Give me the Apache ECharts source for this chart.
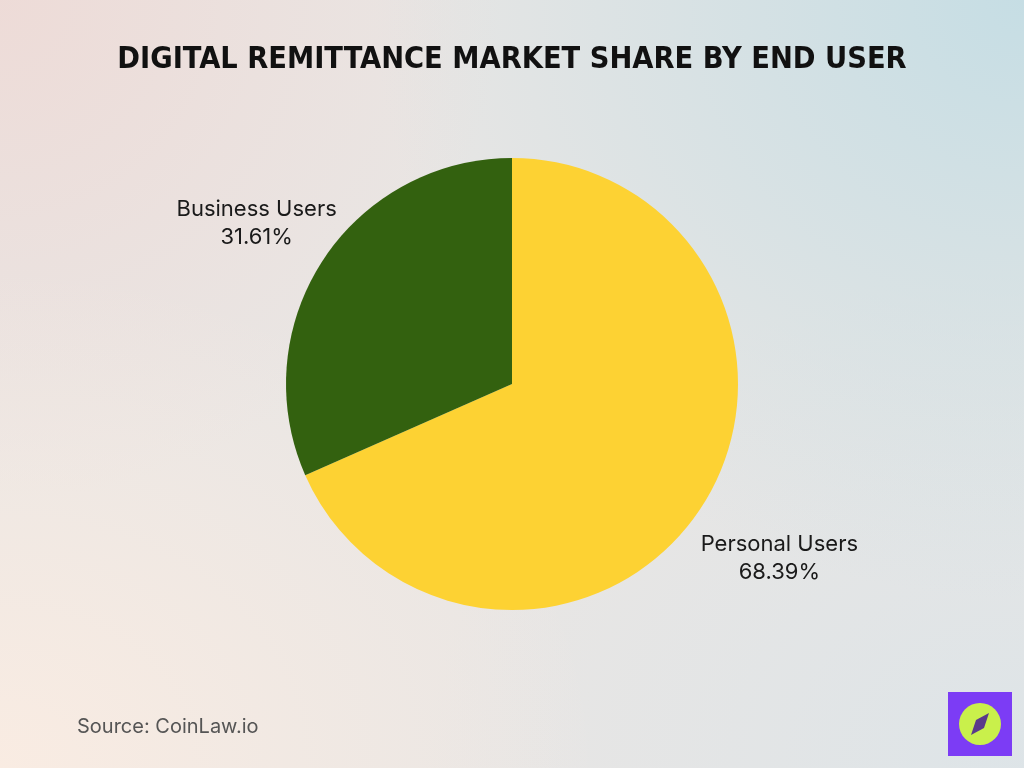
<!DOCTYPE html>
<html>
<head>
<meta charset="utf-8">
<script src="https://cdn.jsdelivr.net/npm/echarts@6/dist/echarts.min.js"></script>
<style>
html,body{margin:0;padding:0;width:1024px;height:768px;overflow:hidden;}
body{
  background:
    radial-gradient(ellipse 600px 500px at 0px 768px, rgba(250,236,226,0.95), rgba(250,236,226,0) 100%),
    radial-gradient(ellipse 650px 600px at 1024px 0px, rgba(196,221,228,0.95), rgba(196,221,228,0) 100%),
    radial-gradient(ellipse 500px 500px at 0px 0px, rgba(238,218,214,0.9), rgba(238,218,214,0) 100%),
    radial-gradient(ellipse 600px 500px at 1024px 768px, rgba(220,228,232,0.9), rgba(220,228,232,0) 100%),
    #e9e6e4;
}
#chart{width:1024px;height:768px;}
</style>
</head>
<body>
<div id="chart"></div>
<script>
var categories = ["Personal Users", "Business Users"];
var shares = [68.39, 31.61];
var colors = ["#fdd233", "#33610f"];
var titleText = "DIGITAL REMITTANCE MARKET SHARE BY END USER";
var sourceText = "Source: CoinLaw.io";

var chart = echarts.init(document.getElementById('chart'), null, {renderer: 'canvas'});
var data = categories.map(function (c, i) {
  return {name: c, value: shares[i], itemStyle: {color: colors[i]}};
});
chart.setOption({
  backgroundColor: 'transparent',
  animation: false,
  title: [{
    text: titleText,
    left: 'center',
    top: 40,
    textStyle: {fontFamily: 'DejaVu Sans Condensed', fontWeight: 'bold', fontSize: 30.4, color: '#111111'}
  }, {
    text: sourceText,
    left: 72,
    top: 712,
    textStyle: {fontFamily: 'Inter', fontWeight: 'normal', fontSize: 20, color: '#555555'}
  }],
  series: [{
    type: 'pie',
    center: [512, 384],
    radius: [0, 226],
    startAngle: 90,
    clockwise: true,
    silent: true,
    data: data,
    label: {
      show: true,
      position: 'outside',
      formatter: function (p) { return p.name + '\n' + p.value.toFixed(2) + '%'; },
      fontFamily: 'Inter',
      fontSize: 22,
      lineHeight: 28,
      color: '#1a1a1a'
    },
    labelLine: {show: false, length: 80, length2: 0},
    labelLayout: function () { return {align: 'center', verticalAlign: 'middle', dx: 6, dy: 7}; }
  }],
  graphic: [{
    type: 'group',
    left: 948,
    top: 692,
    children: [
      {type: 'rect', shape: {x: 0, y: 0, width: 64, height: 64}, style: {fill: '#7c3cf5'}},
      {type: 'circle', shape: {cx: 32, cy: 32, r: 21}, style: {fill: '#c9f04b'}},
      {type: 'polygon', shape: {points: [[41, 21], [36, 36], [23, 43], [28, 28]]}, style: {fill: '#5a3a8a'}}
    ]
  }]
});
</script>
</body>
</html>
